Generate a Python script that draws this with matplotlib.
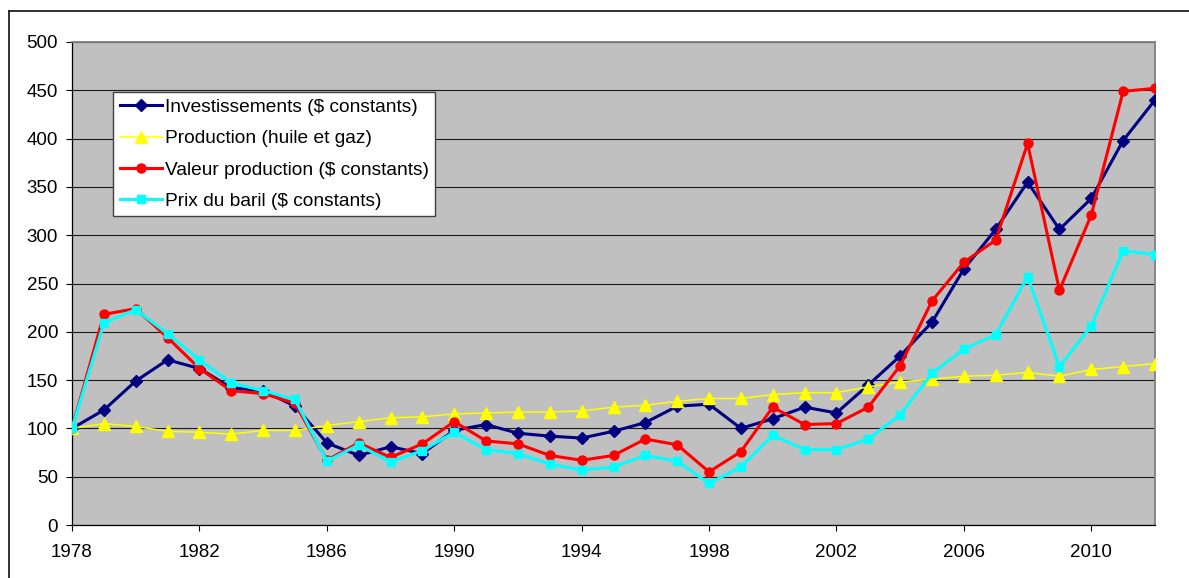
import matplotlib
matplotlib.use("Agg")
import matplotlib.pyplot as plt
from matplotlib.lines import Line2D

plt.rcParams['font.family'] = ['Liberation Sans', 'DejaVu Sans']

years = list(range(1978, 2013))

investissements = [100, 119, 149, 171, 162, 142, 139, 123, 85, 72, 81, 74, 98,
                   104, 95, 92, 90, 97, 106, 123, 125, 100, 110, 122, 116,
                   145, 175, 210, 265, 306, 355, 306, 338, 398, 440]
production = [100, 105, 102, 97, 96, 94, 98, 98, 103, 107, 111, 112, 115,
              116, 117, 117, 118, 122, 124, 128, 131, 131, 135, 137, 137,
              143, 148, 151, 154, 155, 158, 154, 161, 164, 167]
valeur = [100, 218, 224, 194, 162, 139, 136, 126, 67, 85, 70, 84, 107,
          87, 84, 72, 67, 72, 89, 83, 55, 76, 122, 104, 105,
          122, 165, 232, 272, 295, 395, 243, 321, 449, 452]
prix = [100, 209, 223, 198, 171, 147, 139, 130, 66, 83, 65, 77, 96,
        78, 74, 63, 57, 60, 72, 66, 43, 60, 93, 78, 78,
        89, 114, 157, 182, 197, 257, 164, 206, 284, 280]

labels = ["Investissements ($ constants)", "Production (huile et gaz)",
          "Valeur production ($ constants)", "Prix du baril ($ constants)"]

W, H = 1189, 578
fig = plt.figure(figsize=(W / 100, H / 100), dpi=100)
fig.patch.set_facecolor('white')
ax = fig.add_axes([72 / W, (H - 525) / H, (1155 - 72) / W, (525 - 42) / H])
ax.set_facecolor('#C0C0C0')

ax.plot(years, investissements, color='#000080', lw=2.2, marker='D', ms=6.5, label=labels[0], zorder=3)
ax.plot(years, production, color='#FFFF00', lw=1.1, marker='^', ms=8, label=labels[1], zorder=4)
ax.plot(years, valeur, color='#FF0000', lw=2.2, marker='o', ms=6.5, label=labels[2], zorder=5)
ax.plot(years, prix, color='#00FFFF', lw=2.2, marker='s', ms=6, label=labels[3], zorder=6)

ax.set_xlim(1978, 2012)
ax.set_ylim(0, 500)
ax.set_xticks(range(1978, 2013, 4))
ax.set_yticks(range(0, 501, 50))
ax.yaxis.grid(True, color='#1a1a1a', lw=0.8)
ax.set_axisbelow(True)

ax.tick_params(axis='both', labelsize=13.5, length=4, width=0.8, color='black')
ax.tick_params(axis='x', pad=10)
ax.tick_params(axis='y', pad=6)

for s in ['left', 'bottom']:
    ax.spines[s].set_color('black')
    ax.spines[s].set_linewidth(0.9)
for s in ['top', 'right']:
    ax.spines[s].set_color('#808080')
    ax.spines[s].set_linewidth(1.3)

leg = ax.legend(loc='upper left', bbox_to_anchor=((113 - 72) / 1083, (525 - 92) / 483),
                borderaxespad=0, fontsize=13.8, frameon=True, fancybox=False,
                framealpha=1, edgecolor='#404040', handlelength=2.2,
                handletextpad=0.15, labelspacing=0.72, borderpad=0.35)
leg.get_frame().set_linewidth(1.0)
leg.set_zorder(10)

# outer chart frame (top and left edges)
fig.add_artist(Line2D([9 / W, 1], [1 - 11 / H, 1 - 11 / H], color='#202020', lw=1.3))
fig.add_artist(Line2D([9 / W, 9 / W], [0, 1 - 11 / H], color='#202020', lw=1.3))

fig.savefig('out.png', dpi=100)
